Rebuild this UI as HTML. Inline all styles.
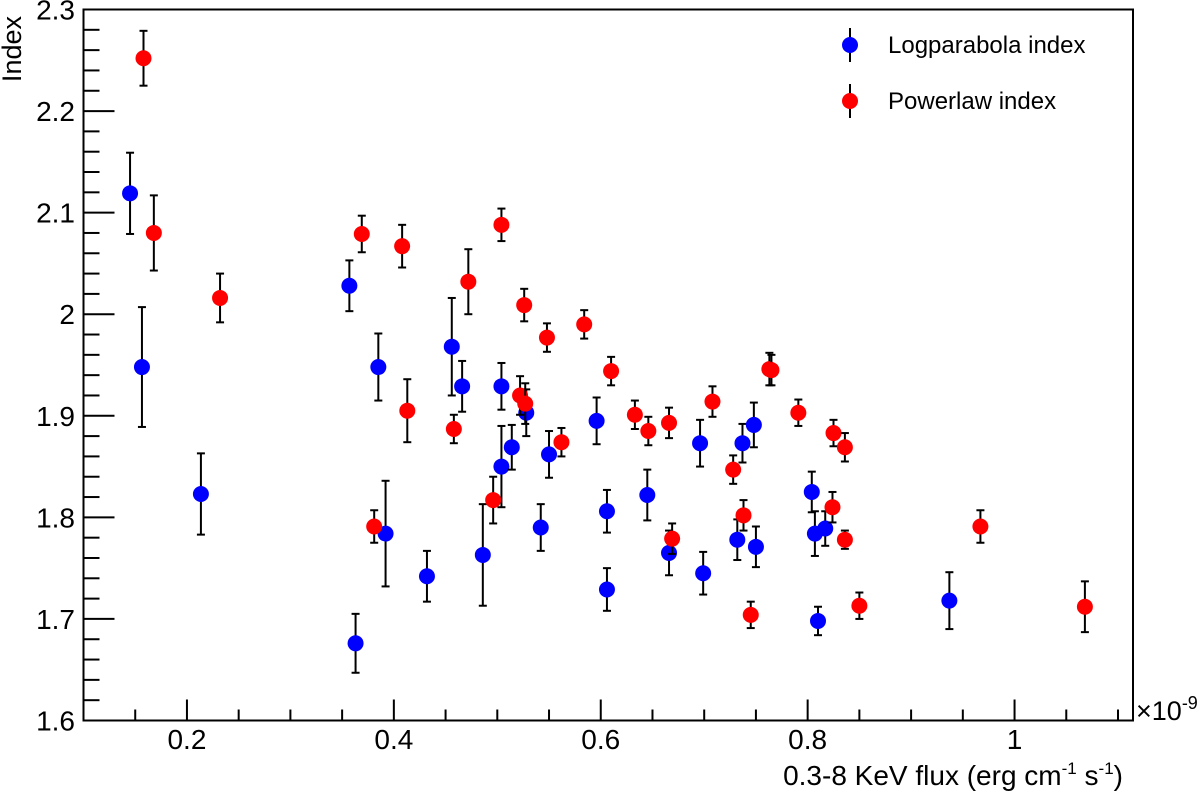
<!DOCTYPE html>
<html><head><meta charset="utf-8"><style>
html,body{margin:0;padding:0;background:#fff;}
svg{display:block;font-family:"Liberation Sans",Arial,sans-serif;}
</style></head><body>
<svg id="chart" width="1200" height="793" viewBox="0 0 1200 793" xmlns="http://www.w3.org/2000/svg">
<g id="axes"></g>
<g id="marks"></g>
<g id="legend">
  <g>
    <line x1="850" y1="28" x2="850" y2="62" stroke="#000" stroke-width="2"/>
    <circle cx="850" cy="45" r="8" fill="#0000ff"/>
    <text x="888" y="53" font-size="24" fill="#000">Logparabola index</text>
  </g>
  <g>
    <line x1="850" y1="84" x2="850" y2="118" stroke="#000" stroke-width="2"/>
    <circle cx="850" cy="101" r="8" fill="#ff0000"/>
    <text x="888" y="109" font-size="24" fill="#000">Powerlaw index</text>
  </g>
</g>
<text x="1123" y="785" text-anchor="end" font-size="28">0.3-8 KeV flux (erg cm<tspan font-size="17" dy="-11">-1</tspan><tspan dy="11"> s</tspan><tspan font-size="17" dy="-11">-1</tspan><tspan dy="11">)</tspan></text>
<text transform="translate(21,16) rotate(-90)" text-anchor="end" font-size="27">Index</text>
<text x="1136" y="720" font-size="27">×10<tspan font-size="18" dy="-11">-9</tspan></text>
</svg>
<script>
const xTicks=[0.2,0.4,0.6,0.8,1];
const xTickLabels=["0.2","0.4","0.6","0.8","1"];
const yTicks=[1.6,1.7,1.8,1.9,2,2.1,2.2,2.3];
const yTickLabels=["1.6","1.7","1.8","1.9","2","2.1","2.2","2.3"];
const logX=[0.145,0.1565,0.2135,0.357,0.385,0.392,0.363,0.432,0.456,0.466,0.486,0.504,0.504,0.514,0.528,0.542,0.55,0.596,0.606,0.606,0.645,0.666,0.699,0.696,0.732,0.737,0.748,0.75,0.804,0.807,0.817,0.81,0.937];
const logY=[2.119,1.948,1.823,2.028,1.948,1.784,1.676,1.742,1.968,1.929,1.763,1.929,1.85,1.869,1.903,1.79,1.862,1.895,1.806,1.729,1.822,1.765,1.745,1.873,1.778,1.873,1.891,1.771,1.825,1.784,1.789,1.698,1.718];
const logErr=[0.04,0.059,0.04,0.025,0.033,0.052,0.029,0.025,0.048,0.025,0.05,0.023,0.04,0.022,0.023,0.023,0.023,0.023,0.021,0.021,0.025,0.022,0.021,0.023,0.02,0.019,0.022,0.02,0.02,0.022,0.017,0.014,0.028];
const powX=[0.158,0.168,0.232,0.369,0.381,0.408,0.413,0.458,0.472,0.496,0.504,0.522,0.527,0.526,0.548,0.562,0.584,0.61,0.633,0.646,0.666,0.669,0.708,0.728,0.738,0.745,0.763,0.765,0.791,0.824,0.825,0.836,0.836,0.85,0.967,1.068];
const powY=[2.252,2.08,2.016,2.079,1.791,2.067,1.905,1.887,2.032,1.817,2.088,1.92,1.912,2.009,1.977,1.874,1.99,1.944,1.901,1.885,1.893,1.779,1.914,1.847,1.802,1.704,1.946,1.945,1.903,1.81,1.883,1.869,1.778,1.713,1.791,1.712];
const powErr=[0.027,0.037,0.024,0.018,0.016,0.021,0.031,0.014,0.032,0.023,0.016,0.019,0.02,0.016,0.014,0.014,0.014,0.014,0.014,0.014,0.015,0.015,0.015,0.014,0.015,0.013,0.016,0.015,0.013,0.015,0.013,0.014,0.009,0.013,0.016,0.025];

const NS="http://www.w3.org/2000/svg";
const L=83.5,R=1133,T=9.5,B=720.5,XMIN=0.1,XMAX=1.1145,YMIN=1.6,YMAX=2.3;
const sx=v=>L+(v-XMIN)/(XMAX-XMIN)*(R-L);
const sy=v=>B-(v-YMIN)/(YMAX-YMIN)*(B-T);
function mk(tag,attrs,parent){const e=document.createElementNS(NS,tag);for(const k in attrs)e.setAttribute(k,attrs[k]);parent.appendChild(e);return e;}
const axes=document.getElementById('axes');
const frame=mk('rect',{x:L,y:T,width:R-L,height:B-T,fill:'none',stroke:'#000','stroke-width':2},axes);


for(let v=0.1;v<=XMAX+1e-9;v+=0.05){
  const major=xTicks.some(t=>Math.abs(t-v)<1e-6);
  const x=sx(v);
  const t=mk('line',{x1:x,x2:x,y1:B,y2:B-(major?21:11),stroke:'#000','stroke-width':2},axes);
  
  
}
xTicks.forEach((v,i)=>{
  const t=mk('text',{x:sx(v),y:749,'text-anchor':'middle','font-size':28},axes);
  t.textContent=xTickLabels[i];
  
  
});
for(let v=1.6;v<=2.3+1e-9;v+=0.02){
  const major=yTicks.some(t=>Math.abs(t-v)<1e-6);
  const y=sy(v);
  const t=mk('line',{x1:L,x2:L+(major?31:16),y1:y,y2:y,stroke:'#000','stroke-width':2},axes);
  
  
}
yTicks.forEach((v,i)=>{
  const t=mk('text',{x:75,y:sy(v)+10,'text-anchor':'end','font-size':28},axes);
  t.textContent=yTickLabels[i];
  
  
});
const marks=document.getElementById('marks');
function series(xs,ys,es,color,name){
  const g=mk('g',{},marks);
  
  
  xs.forEach((xv,i)=>{
    const x=sx(xv),y=sy(ys[i]),y1=sy(ys[i]+es[i]),y2=sy(ys[i]-es[i]);
    mk('line',{x1:x,x2:x,y1:y1,y2:y2,stroke:'#000','stroke-width':2},g);
    mk('line',{x1:x-4,x2:x+4,y1:y1,y2:y1,stroke:'#000','stroke-width':2},g);
    mk('line',{x1:x-4,x2:x+4,y1:y2,y2:y2,stroke:'#000','stroke-width':2},g);
    const c=mk('circle',{cx:x,cy:y,r:8,fill:color},g);
    
    
  });
}
series(logX,logY,logErr,'#0000ff','logparabola');
series(powX,powY,powErr,'#ff0000','powerlaw');
</script>
</body></html>
